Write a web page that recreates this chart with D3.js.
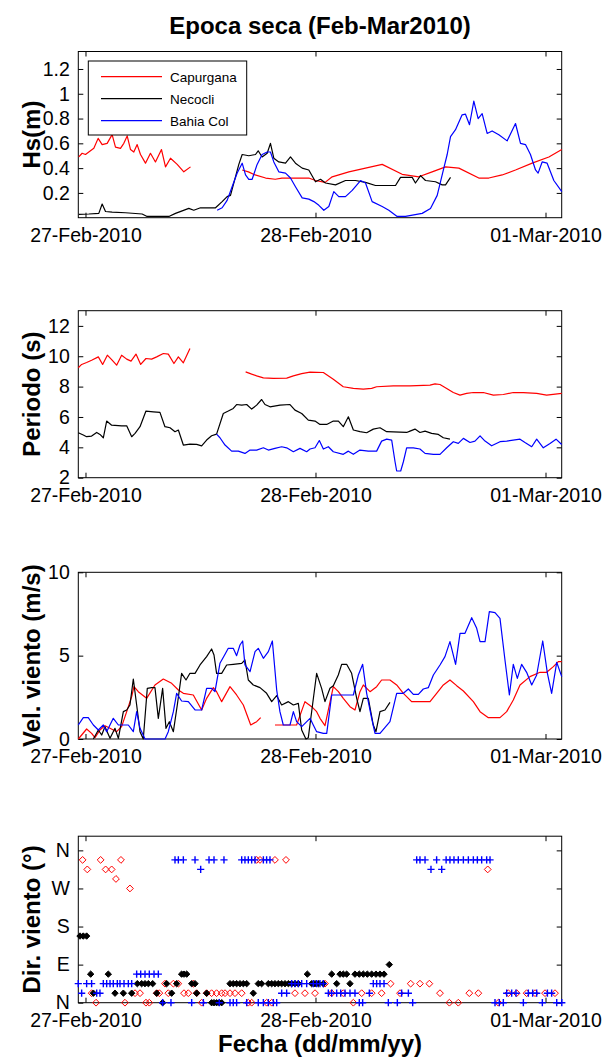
<!DOCTYPE html>
<html><head><meta charset="utf-8">
<script src="https://cdn.jsdelivr.net/npm/d3@7"></script>
<style>
body{margin:0;background:#fff}
svg text{font-family:Arial,"Liberation Sans",Helvetica,sans-serif;fill:#000}
</style>
</head><body>
<svg id="chart" width="602" height="1059"></svg>
<script>
// ---- categories / labels ----
const seriesNames = ["Capurgana", "Necocli", "Bahia Col"];
const seriesColors = ["#ff0000", "#000000", "#0000ff"];
const dayTickDates = ["2010-02-27", "2010-02-28", "2010-03-01"];
const hsTicks = [0.2, 0.4, 0.6, 0.8, 1.0, 1.2];
const perTicks = [2, 4, 6, 8, 10, 12];
const velTicks = [0, 5, 10];
const dirTicks = [0, 90, 180, 270, 360];
const dirTickLabels = ["N", "E", "S", "W", "N"];

// ---- data: [hours since 27-Feb-2010 00:00, value] ----
const hsCapA = [[-0.7,0.49],[-0.35,0.52],[0,0.51],[0.52,0.54],[0.87,0.56],[1.32,0.64],[1.74,0.59],[2.26,0.60],[2.78,0.67],[3.13,0.57],[3.65,0.56],[4.0,0.60],[4.35,0.66],[4.7,0.55],[5.04,0.53],[5.39,0.59],[5.74,0.51],[6.26,0.44],[6.78,0.52],[7.3,0.45],[7.93,0.55],[8.35,0.41],[8.87,0.48],[9.57,0.43],[10.26,0.37],[10.96,0.41]];
const hsCapB = [[16.35,0.385],[17.0,0.37],[17.7,0.345],[18.8,0.32],[19.8,0.31],[20.5,0.32],[21.9,0.32],[23.3,0.32],[24.0,0.30],[25.0,0.285],[25.74,0.33],[27.48,0.37],[29.22,0.40],[30.96,0.43],[33.04,0.35],[34.78,0.33],[36.17,0.37],[37.57,0.41],[38.96,0.40],[41.04,0.32],[42.09,0.32],[43.48,0.345],[44.87,0.385],[46.61,0.44],[48.35,0.49],[49.7,0.55]];
const hsNec = [[-0.7,0.027],[0.35,0.03],[1.39,0.035],[1.74,0.11],[2.09,0.05],[2.78,0.045],[4.17,0.04],[5.91,0.03],[6.43,0.01],[8.7,0.01],[9.39,0.035],[10.09,0.055],[10.78,0.075],[11.3,0.06],[12.0,0.08],[13.57,0.08],[14.26,0.13],[14.78,0.17],[15.13,0.18],[15.65,0.33],[16.0,0.43],[16.35,0.51],[17.04,0.50],[17.74,0.51],[18.02,0.54],[18.43,0.49],[18.96,0.52],[19.3,0.60],[19.65,0.48],[20.17,0.45],[20.87,0.44],[21.39,0.49],[21.91,0.44],[22.61,0.40],[23.3,0.385],[24.0,0.29],[24.52,0.31],[25.04,0.28],[26.09,0.265],[27.13,0.30],[28.17,0.30],[29.22,0.285],[30.26,0.26],[32.35,0.26],[32.87,0.325],[34.09,0.325],[34.43,0.28],[34.96,0.34],[35.48,0.30],[36.52,0.29],[37.22,0.265],[37.57,0.265],[38.09,0.325]];
const hsBahia = [[13.74,0.06],[14.26,0.08],[14.78,0.14],[15.3,0.25],[15.83,0.36],[16.35,0.44],[16.7,0.345],[17.04,0.31],[17.39,0.31],[17.91,0.43],[18.43,0.51],[18.96,0.53],[19.3,0.53],[19.65,0.45],[20.17,0.37],[20.87,0.36],[21.39,0.32],[21.91,0.25],[22.61,0.16],[23.3,0.15],[23.83,0.13],[24.35,0.10],[24.87,0.06],[25.39,0.09],[25.91,0.21],[26.43,0.17],[27.13,0.17],[27.83,0.22],[28.7,0.30],[29.22,0.28],[29.91,0.13],[30.96,0.09],[31.65,0.06],[32.52,0.01],[33.39,0.01],[35.13,0.035],[36.0,0.075],[36.7,0.18],[37.39,0.40],[37.74,0.51],[38.09,0.655],[38.61,0.71],[39.3,0.83],[39.65,0.835],[40.07,0.75],[40.52,0.94],[40.97,0.80],[41.39,0.84],[41.91,0.68],[42.43,0.70],[43.13,0.67],[44.0,0.62],[44.87,0.76],[45.39,0.60],[45.91,0.59],[46.43,0.51],[46.96,0.385],[47.23,0.36],[47.65,0.45],[48.17,0.44],[48.87,0.30],[49.7,0.21]];

const perCapA = [[-0.75,9.24],[-0.4,9.46],[0.12,9.59],[0.64,9.74],[1.34,9.96],[1.79,9.46],[2.28,10.07],[2.73,9.78],[3.25,9.41],[3.77,10.07],[4.3,9.81],[4.75,9.68],[5.27,10.14],[5.76,9.46],[6.31,9.85],[6.9,9.81],[7.43,9.96],[8.12,10.18],[8.64,10.14],[9.23,9.52],[9.69,9.96],[10.21,9.57],[10.9,10.51]];
const perCapB = [[16.71,8.97],[17.34,8.82],[17.86,8.71],[18.56,8.58],[19.6,8.54],[21.0,8.56],[21.69,8.71],[22.56,8.86],[23.43,8.95],[24.82,8.93],[25.86,8.49],[26.9,7.99],[27.95,7.88],[28.99,7.83],[29.86,7.88],[30.38,7.99],[32.12,8.05],[33.86,8.05],[35.95,8.10],[36.47,8.18],[36.99,8.14],[37.69,7.88],[38.38,7.61],[39.08,7.44],[39.77,7.55],[40.47,7.61],[41.51,7.61],[42.56,7.44],[43.6,7.48],[44.64,7.61],[45.69,7.61],[47.08,7.55],[48.12,7.44],[49.69,7.55]];
const perNec = [[-0.75,4.96],[-0.23,4.81],[0.12,4.70],[0.64,4.74],[1.17,4.98],[1.51,4.85],[1.86,4.63],[2.21,5.73],[2.73,5.46],[3.77,5.42],[4.3,5.42],[4.82,4.70],[5.17,4.92],[5.69,5.36],[6.31,6.39],[7.08,6.34],[7.77,6.30],[8.29,5.36],[8.82,5.29],[9.34,5.03],[9.69,5.14],[10.21,4.15],[10.9,4.21],[11.6,4.19],[12.12,4.10],[12.64,4.48],[13.16,4.76],[13.68,4.87],[14.38,6.23],[14.9,6.39],[15.42,6.56],[15.77,6.82],[16.3,6.78],[16.82,6.82],[17.34,6.52],[17.86,6.78],[18.38,7.15],[18.73,6.82],[19.25,6.67],[20.3,6.78],[21.34,6.82],[21.86,6.45],[22.56,6.23],[23.25,5.79],[23.95,5.73],[24.47,5.51],[25.17,5.51],[25.86,5.73],[26.39,5.73],[26.9,5.36],[27.43,6.01],[27.95,5.14],[28.64,5.03],[29.34,4.96],[30.03,5.20],[30.73,5.29],[31.43,5.03],[33.51,4.98],[33.86,5.07],[34.38,5.20],[34.9,4.98],[35.43,5.07],[36.12,4.92],[36.82,4.85],[37.34,4.63],[38.03,4.54]];
const perBahia = [[13.68,4.87],[14.03,4.63],[14.56,4.15],[15.25,3.75],[15.95,3.75],[16.64,3.60],[17.17,3.82],[17.86,3.82],[18.56,3.97],[19.08,3.82],[19.77,3.93],[20.47,4.04],[20.99,3.97],[21.69,3.71],[22.38,3.93],[23.08,3.71],[23.43,3.89],[23.95,3.97],[24.4,4.45],[24.82,3.89],[25.34,4.04],[25.86,3.71],[26.9,3.54],[27.43,3.75],[27.95,3.54],[28.64,3.82],[29.51,3.75],[30.38,3.75],[30.9,4.41],[31.43,4.54],[31.95,4.48],[32.3,3.05],[32.47,2.44],[32.89,2.44],[33.17,3.05],[33.51,3.97],[34.21,3.97],[34.9,3.89],[35.43,3.60],[36.3,3.54],[36.99,3.54],[37.69,3.97],[38.38,4.37],[38.9,4.26],[39.43,4.59],[40.12,4.32],[40.64,4.41],[41.17,4.76],[41.69,4.41],[42.38,4.10],[43.25,4.37],[43.95,4.41],[45.34,4.54],[45.86,4.32],[46.56,4.04],[47.08,4.54],[47.77,3.97],[48.47,4.26],[49.1,4.54],[49.69,4.19]];

const velCapA = [[-0.75,0],[-0.4,0.24],[0.12,0.6],[0.64,0.34],[0.99,0.08],[1.51,0.54],[2.03,0.8],[2.56,0.64],[3.25,0.44],[3.77,0.74],[4.3,1.64],[4.82,2.54],[5.06,3.14],[5.51,2.84],[6.38,2.44],[7.25,3.24],[8.12,3.6],[8.99,3.34],[9.69,2.94],[10.21,2.74],[11.25,2.64],[12.12,1.74],[12.64,2.44],[13.34,3.08],[13.68,2.84],[14.21,2.24],[15.08,3.14],[15.77,2.64],[16.47,2.04],[17.24,0.84],[17.86,1.04],[18.28,1.28]];
const velCapB = [[19.77,0.84],[22.03,0.84],[22.9,2.24],[23.6,1.94],[24.12,1.64],[24.47,1.24],[24.99,0.8],[25.86,3.14],[26.39,2.84],[26.9,2.44],[27.6,1.94],[28.12,1.74],[28.64,2.84],[28.99,3.24],[29.69,2.84],[30.38,3.14],[30.9,3.54],[31.77,3.54],[32.47,3.24],[33.17,2.74],[34.03,2.24],[34.9,2.24],[35.95,2.24],[36.64,2.74],[37.34,3.24],[38.03,3.54],[38.73,3.2],[39.43,2.88],[40.47,2.24],[41.17,1.64],[42.04,1.28],[43.25,1.28],[43.95,1.64],[44.64,2.34],[45.34,3.24],[46.38,3.74],[47.43,4.0],[48.12,4.0],[48.82,4.34],[49.34,4.64],[49.69,4.64]];
const velNec = [[0.82,0],[1.34,0.54],[1.69,0.24],[2.03,0.74],[2.56,0.04],[3.08,0.64],[3.43,0.04],[3.95,1.64],[4.3,1.74],[4.64,2.04],[4.99,3.6],[5.34,2.04],[5.69,0.44],[6.03,0],[6.45,3.04],[6.9,3.08],[7.25,3.08],[7.6,1.24],[8.05,3.04],[8.4,0.64],[8.75,1.04],[9.17,0.44],[9.58,2.04],[10.03,3.94],[10.49,3.54],[10.9,3.94],[11.43,3.94],[11.95,4.44],[12.64,4.94],[13.16,5.4],[13.41,5.04],[13.68,3.94],[14.21,3.94],[14.73,4.44],[15.42,4.48],[16.3,4.54],[16.64,4.74],[16.99,3.54],[17.51,3.24],[18.21,3.08],[18.9,2.74],[19.43,2.24],[19.95,2.6],[20.47,2.04],[21.17,2.24],[21.69,2.04],[22.21,2.14],[22.56,0.54],[23.0,0],[23.25,0.08],[23.77,2.4],[24.12,3.94],[24.64,3.04],[24.99,2.24],[25.51,3.04],[25.86,3.2],[26.38,3.84],[26.73,4.48],[27.25,4.48],[27.77,3.94],[28.3,2.44],[28.64,1.64],[28.99,2.44],[29.51,2.44],[30.03,0.84],[30.31,0.44],[30.73,1.64],[31.25,1.74],[31.77,2.2]];
const velBahia = [[-0.75,0.84],[-0.23,1.28],[0.29,1.28],[0.82,0.84],[1.34,0.54],[1.86,0.84],[2.21,0.44],[2.9,1.24],[3.43,0.84],[3.95,0.84],[4.47,0.84],[4.99,0.44],[5.34,1.64],[5.69,0.64],[6.21,0],[8.3,0],[8.64,0.44],[9.17,1.64],[9.51,2.74],[10.03,2.28],[10.73,2.24],[11.43,1.74],[12.12,1.74],[12.64,3.04],[13.16,3.04],[13.51,2.84],[14.03,4.54],[14.56,5.08],[14.9,5.44],[15.42,5.44],[15.77,5.0],[16.12,5.64],[16.4,5.88],[16.64,4.44],[17.17,4.04],[17.69,5.24],[18.03,5.44],[18.56,4.84],[19.08,5.24],[19.5,5.88],[19.95,2.94],[20.29,1.64],[20.64,0.84],[21.34,0.84],[21.69,1.64],[22.03,1.04],[22.56,0.74],[23.43,1.24],[23.77,0.84],[24.12,0.44],[24.82,0.34],[25.17,0.34],[25.69,2.64],[26.38,2.64],[27.95,2.64],[28.47,3.84],[28.92,4.48],[29.34,2.74],[29.86,1.24],[30.21,0.34],[30.73,0.34],[31.77,1.04],[32.47,2.74],[33.17,2.74],[33.69,3.0],[34.21,2.68],[34.73,2.68],[35.25,3.0],[35.77,3.08],[36.3,3.84],[36.99,4.44],[37.51,4.94],[38.03,5.84],[38.62,4.48],[39.08,6.34],[39.6,6.34],[40.3,7.28],[40.82,6.64],[41.17,5.84],[41.69,5.84],[42.14,7.64],[42.73,7.58],[43.25,7.24],[43.77,4.74],[44.23,2.64],[44.64,4.48],[45.06,3.64],[45.51,4.48],[46.03,4.0],[46.56,3.24],[47.08,3.84],[47.71,5.88],[48.2,3.94],[48.64,2.74],[49.17,4.6],[49.69,3.74]];

const dirCap = [[-0.3,337.5],[0.19,315],[1.58,337.5],[2.1,315],[2.73,315],[3.18,292.5],[3.7,337.5],[4.64,270],[17.86,337.5],[18.21,337.5],[19.77,337.5],[20.92,337.5],[0.64,22.5],[1.1,0],[4.12,0],[5.17,22.5],[5.69,22.5],[6.31,0],[6.66,0],[7.43,22.5],[7.71,22.5],[8.3,45],[8.64,22.5],[9.17,45],[9.69,45],[10.28,22.5],[10.73,22.5],[11.25,45],[11.6,22.5],[12.12,0],[12.64,22.5],[13.16,22.5],[13.68,22.5],[14.21,22.5],[14.56,22.5],[15.08,22.5],[15.6,22.5],[16.3,22.5],[16.99,0],[17.34,0],[18.9,0],[19.43,0],[21.86,22.5],[22.9,22.5],[23.95,22.5],[24.99,45],[25.69,22.5],[26.9,22.5],[27.95,0],[28.82,22.5],[29.86,22.5],[30.9,22.5],[31.84,45],[32.82,22.5],[33.93,45],[34.9,45],[35.88,45],[36.99,22.5],[37.97,0],[38.9,0],[40.05,22.5],[40.99,22.5],[41.97,315],[43.08,0],[44.12,22.5],[44.99,22.5],[46.03,22.5],[46.91,22.5],[47.95,22.5],[48.99,22.5]];
const dirNec = [[-0.57,157.5],[-0.23,157.5],[0.12,157.5],[0.54,67.5],[0.82,22.5],[2.38,67.5],[3.08,22.5],[3.95,22.5],[4.82,22.5],[5.41,45],[5.86,45],[6.21,45],[6.56,45],[7.01,45],[7.43,22.5],[8.05,0],[8.47,45],[8.99,22.5],[9.51,45],[10.03,67.5],[10.28,67.5],[10.56,67.5],[11.08,45],[11.43,45],[11.6,22.5],[12.64,22.5],[13.16,0],[13.41,0],[13.68,0],[13.96,0],[14.21,0],[15.08,45],[15.42,45],[15.77,45],[16.12,45],[16.47,45],[16.82,45],[17.51,22.5],[18.03,45],[18.38,45],[19.08,45],[19.43,45],[19.77,45],[20.12,45],[20.47,45],[20.82,45],[21.17,45],[21.51,45],[21.86,45],[22.21,45],[23.15,67.5],[23.6,45],[23.95,45],[24.3,45],[24.82,45],[25.69,67.5],[26.21,45],[26.56,67.5],[26.9,67.5],[27.25,67.5],[27.6,45],[28.12,67.5],[28.57,67.5],[28.99,67.5],[29.41,67.5],[29.86,67.5],[30.31,67.5],[30.73,67.5],[31.15,67.5],[31.7,90]];
const dirBahia = [[9.34,337.5],[9.69,337.5],[10.21,337.5],[11.43,337.5],[12.02,315],[12.89,337.5],[13.41,337.5],[14.45,337.5],[16.3,337.5],[16.64,337.5],[16.99,337.5],[17.34,337.5],[17.69,337.5],[18.56,337.5],[18.9,337.5],[19.25,337.5],[-0.75,45],[-0.4,22.5],[0.12,45],[0.64,45],[1.17,22.5],[1.51,22.5],[1.86,45],[2.21,45],[2.56,45],[2.9,45],[3.32,45],[3.6,45],[4.02,45],[4.47,45],[4.82,45],[5.34,67.5],[5.76,67.5],[6.21,67.5],[6.66,67.5],[7.15,67.5],[7.6,67.5],[8.05,0],[8.92,0],[11.08,0],[12.3,0],[13.96,0],[15.08,0],[15.42,0],[15.77,0],[16.82,0],[18.03,0],[18.56,0],[19.08,0],[19.6,0],[19.95,0],[20.47,22.5],[20.99,22.5],[21.51,45],[21.86,45],[22.21,45],[22.56,45],[23.08,45],[23.77,45],[24.12,45],[24.47,45],[24.82,45],[25.34,22.5],[25.69,22.5],[26.21,22.5],[26.63,22.5],[27.08,22.5],[27.6,22.5],[28.12,22.5],[28.57,0],[28.92,0],[29.62,22.5],[30.03,45],[30.38,45],[30.73,45],[31.15,45],[31.6,0],[32.54,0],[32.99,22.5],[33.69,22.5],[34.14,0],[34.56,337.5],[34.9,337.5],[35.43,337.5],[36.05,315],[36.64,337.5],[37.17,315],[37.63,337.5],[38.03,337.5],[38.45,337.5],[38.9,337.5],[39.43,337.5],[39.95,337.5],[40.47,337.5],[40.89,337.5],[41.34,337.5],[41.86,337.5],[42.21,337.5],[42.73,0],[43.18,0],[43.6,0],[43.95,22.5],[44.47,22.5],[44.92,22.5],[45.69,0],[46.21,22.5],[46.66,22.5],[47.08,22.5],[47.67,0],[48.2,22.5],[48.64,22.5],[49.17,0],[49.7,0]];

// ---- layout ----
const svg = d3.select("#chart");
const L = 78.3, R = 561.7;
const base = Date.UTC(2010, 1, 27);
const toDate = h => new Date(base + h * 3600e3);
const x = d3.scaleUtc().domain([toDate(-0.75), toDate(49.69)]).range([L, R]);
const xTickVals = dayTickDates.map(s => new Date(s + "T00:00:00Z"));
const fmtDay = d3.utcFormat("%d-%b-%Y");

const panels = [
  {top: 51.5, bottom: 217.7, dom: [0, 1.341], ticks: hsTicks, fmt: d => String(+d.toFixed(1)), label: "Hs(m)"},
  {top: 310.7, bottom: 477.7, dom: [2, 13], ticks: perTicks, fmt: d => String(d), label: "Periodo (s)"},
  {top: 572.3, bottom: 739, dom: [0, 10], ticks: velTicks, fmt: d => String(d), label: "Vel. viento (m/s)"},
  {top: 836.2, bottom: 1002.7, dom: [0, 393.5], ticks: dirTicks, fmt: (d, i) => dirTickLabels[i], label: "Dir. viento (\u00b0)"}
];
const FONT = 'Arial, "Liberation Sans", Helvetica, sans-serif';
const TICKFS = 19.5;

function styleAxis(g) {
  g.attr("font-family", FONT).attr("font-size", TICKFS);
  g.select(".domain").remove();
  g.selectAll("line").attr("stroke", "#000").attr("stroke-width", 1);
  g.selectAll("text").attr("fill", "#000");
}

panels.forEach(p => {
  p.y = d3.scaleLinear().domain(p.dom).range([p.bottom, p.top]);
  const g = svg.append("g");
  g.append("g").attr("transform", `translate(0,${p.bottom})`)
    .call(d3.axisBottom(x).tickValues(xTickVals).tickFormat(fmtDay).tickSizeInner(-5).tickSizeOuter(0).tickPadding(10.5))
    .call(styleAxis);
  g.append("g").attr("transform", `translate(0,${p.top})`)
    .call(d3.axisTop(x).tickValues(xTickVals).tickFormat("").tickSizeInner(-5).tickSizeOuter(0))
    .call(styleAxis);
  g.append("g").attr("transform", `translate(${L},0)`)
    .call(d3.axisLeft(p.y).tickValues(p.ticks).tickFormat(p.fmt).tickSizeInner(-5).tickSizeOuter(0).tickPadding(8.5))
    .call(styleAxis);
  g.append("g").attr("transform", `translate(${R},0)`)
    .call(d3.axisRight(p.y).tickValues(p.ticks).tickFormat("").tickSizeInner(-5).tickSizeOuter(0))
    .call(styleAxis);
  g.append("rect").attr("x", L).attr("y", p.top).attr("width", R - L).attr("height", p.bottom - p.top)
    .attr("fill", "none").attr("stroke", "#000").attr("stroke-width", 1);
  svg.append("text").attr("transform", `translate(40,${(p.top + p.bottom) / 2}) rotate(-90)`)
    .attr("text-anchor", "middle").attr("font-family", FONT).attr("font-size", 24).attr("font-weight", "bold")
    .text(p.label);
});

function drawLine(p, data, color) {
  const line = d3.line().x(d => x(toDate(d[0]))).y(d => p.y(d[1]));
  svg.append("path").datum(data).attr("d", line).attr("fill", "none")
    .attr("stroke", color).attr("stroke-width", 1.2).attr("stroke-linejoin", "round");
}

// Panel 1
drawLine(panels[0], hsCapA, seriesColors[0]);
drawLine(panels[0], hsCapB, seriesColors[0]);
drawLine(panels[0], hsNec, seriesColors[1]);
drawLine(panels[0], hsBahia, seriesColors[2]);
// Panel 2
drawLine(panels[1], perCapA, seriesColors[0]);
drawLine(panels[1], perCapB, seriesColors[0]);
drawLine(panels[1], perNec, seriesColors[1]);
drawLine(panels[1], perBahia, seriesColors[2]);
// Panel 3
drawLine(panels[2], velCapA, seriesColors[0]);
drawLine(panels[2], velCapB, seriesColors[0]);
drawLine(panels[2], velNec, seriesColors[1]);
drawLine(panels[2], velBahia, seriesColors[2]);

// Panel 4 markers
const p4 = panels[3];
const diamond = r => `M0,${-r}L${r},0L0,${r}L${-r},0Z`;
const plus = r => `M${-r},0H${r}M0,${-r}V${r}`;
svg.append("g").selectAll("path").data(dirCap).join("path")
  .attr("transform", d => `translate(${x(toDate(d[0]))},${p4.y(d[1])})`)
  .attr("d", diamond(3.4)).attr("fill", "none").attr("stroke", seriesColors[0]).attr("stroke-width", 1);
svg.append("g").selectAll("path").data(dirNec).join("path")
  .attr("transform", d => `translate(${x(toDate(d[0]))},${p4.y(d[1])})`)
  .attr("d", diamond(3.2)).attr("fill", seriesColors[1]).attr("stroke", seriesColors[1]).attr("stroke-width", 1);
svg.append("g").selectAll("path").data(dirBahia).join("path")
  .attr("transform", d => `translate(${x(toDate(d[0]))},${p4.y(d[1])})`)
  .attr("d", plus(3.6)).attr("fill", "none").attr("stroke", seriesColors[2]).attr("stroke-width", 1.4);

// Legend
const lg = svg.append("g");
lg.append("rect").attr("x", 88.3).attr("y", 61).attr("width", 158.4).attr("height", 74)
  .attr("fill", "#fff").attr("stroke", "#000").attr("stroke-width", 1);
const legendRowY = d3.scalePoint().domain(seriesNames).range([76.7, 120.7]);
seriesNames.forEach((n, i) => {
  const yy = legendRowY(n);
  lg.append("line").attr("x1", 101).attr("x2", 162).attr("y1", yy).attr("y2", yy)
    .attr("stroke", seriesColors[i]).attr("stroke-width", 1.2);
  lg.append("text").attr("x", 170).attr("y", yy + 5).attr("font-family", FONT).attr("font-size", 13.5).text(n);
});

// Title and x label
svg.append("text").attr("x", 320).attr("y", 34).attr("text-anchor", "middle")
  .attr("font-family", FONT).attr("font-size", 24).attr("font-weight", "bold").text("Epoca seca (Feb-Mar2010)");
svg.append("text").attr("x", 320).attr("y", 1052).attr("text-anchor", "middle")
  .attr("font-family", FONT).attr("font-size", 24).attr("font-weight", "bold").text("Fecha (dd/mm/yy)");
</script>
</body></html>
